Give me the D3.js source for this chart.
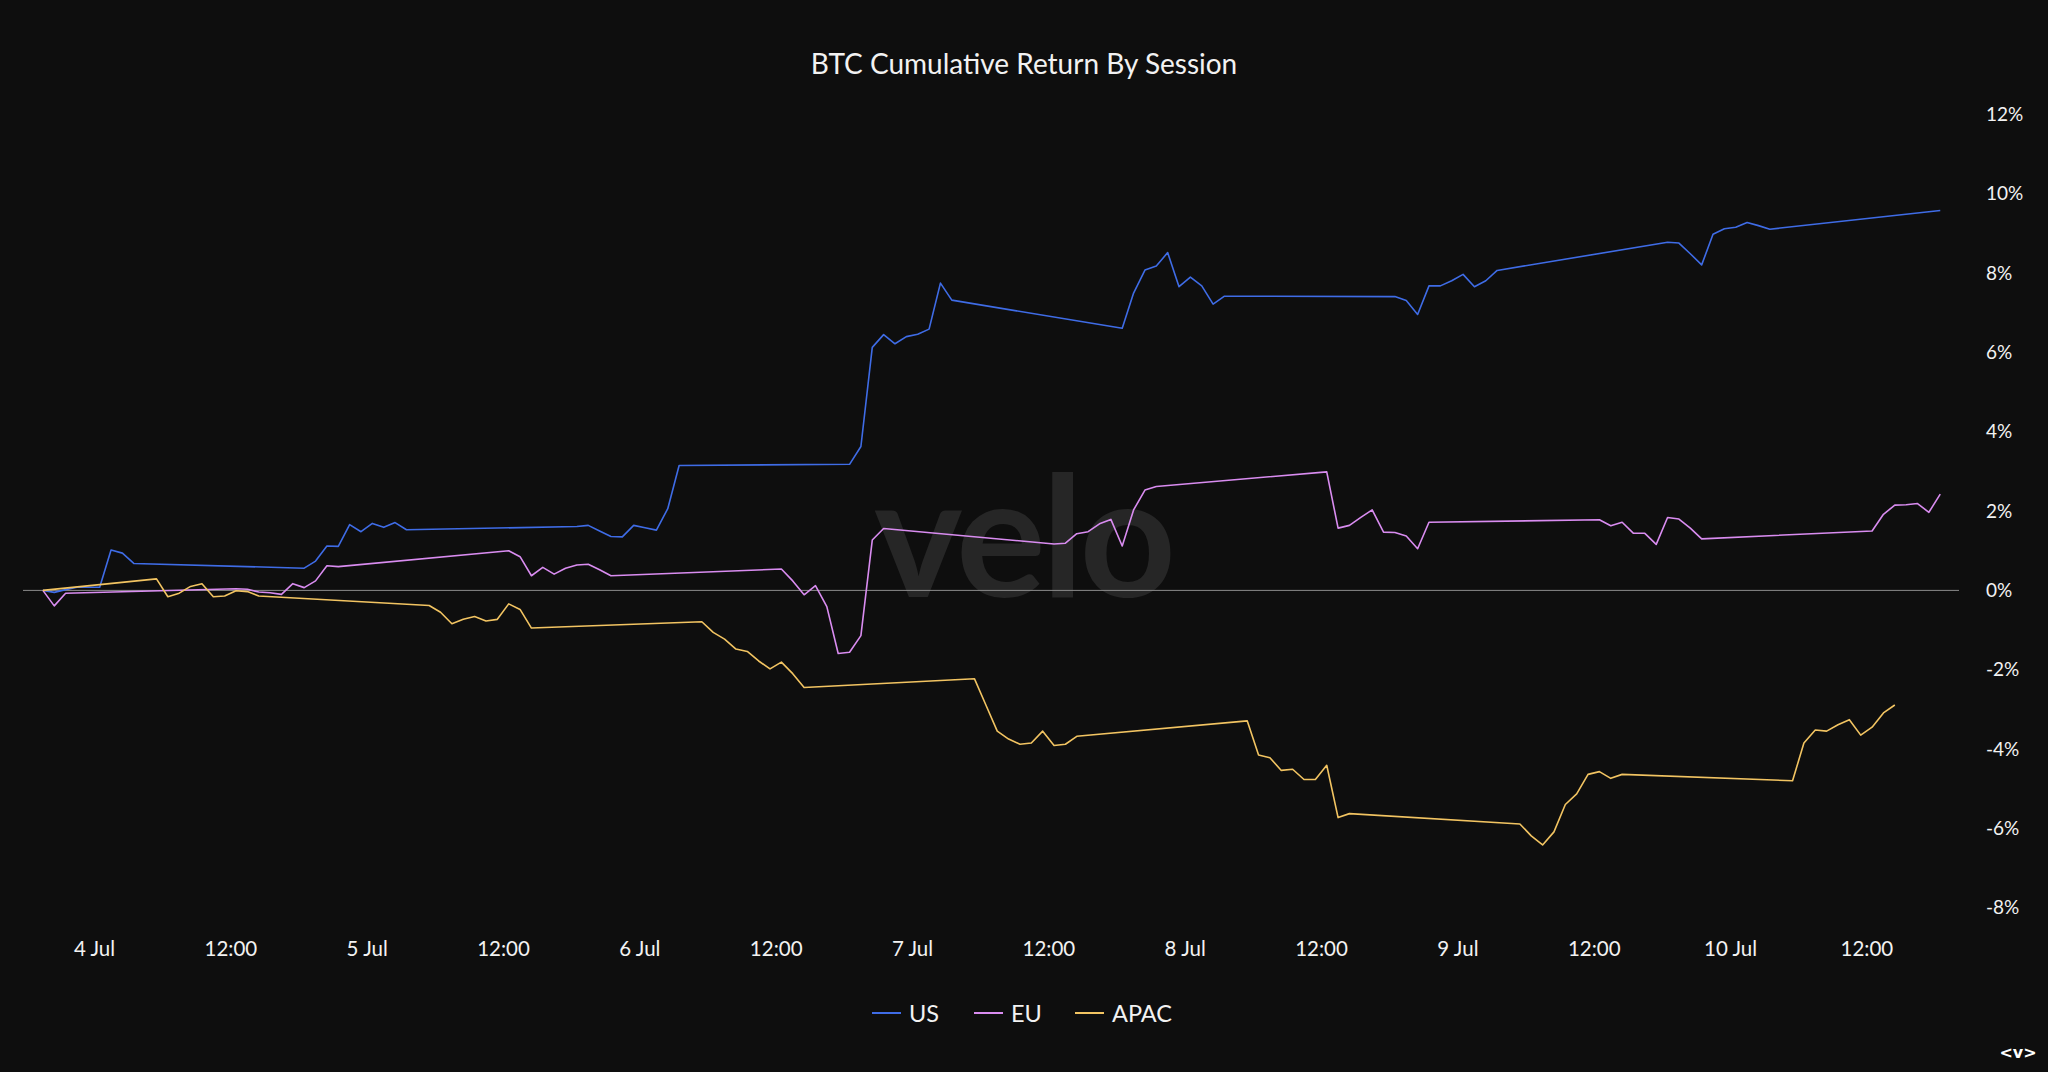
<!DOCTYPE html>
<html><head><meta charset="utf-8">
<script src="https://cdn.jsdelivr.net/npm/d3@7"></script>
<style>
html,body{margin:0;padding:0;background:#0e0e0e;}
svg{display:block;}
</style></head><body>
<svg id="chart" width="2048" height="1072"></svg>
<script>
// ---- data (cumulative return %, hourly points inside each session) ----
const seriesNames = ["US", "EU", "APAC"];
const seriesColors = ["#3f6ce6", "#d98cf0", "#f2c462"];

const usStarts = ["2024-07-03T19:30","2024-07-04T18:30","2024-07-05T18:30","2024-07-06T18:30","2024-07-07T18:30","2024-07-08T18:30","2024-07-09T18:30","2024-07-10T18:30"];
const usValues = [
  [0, -0.05, 0.02, 0.08, 0.08, 0.08, 1.02, 0.94, 0.68],
  [0.56, 0.74, 1.12, 1.11, 1.66, 1.48, 1.69, 1.59, 1.71, 1.53],
  [1.61, 1.64, 1.50, 1.36, 1.35, 1.64, 1.58, 1.52, 2.06, 3.15],
  [3.18, 3.63, 6.13, 6.45, 6.22, 6.40, 6.46, 6.59, 7.75, 7.32],
  [6.61, 7.50, 8.08, 8.18, 8.52, 7.66, 7.90, 7.68, 7.22, 7.42],
  [7.41, 7.31, 6.96, 7.68, 7.68, 7.81, 7.97, 7.66, 7.81, 8.07],
  [8.78, 8.76, 8.49, 8.21, 8.98, 9.12, 9.16, 9.28, 9.20, 9.11],
  [9.58]
];

const euStarts = ["2024-07-03T19:30","2024-07-04T12:30","2024-07-05T12:30","2024-07-06T12:30","2024-07-07T12:30","2024-07-08T12:30","2024-07-09T12:30","2024-07-10T12:30"];
const euValues = [
  [0, -0.39, -0.07],
  [0.04, 0.03, -0.04, -0.06, -0.10, 0.17, 0.07, 0.24, 0.62, 0.60],
  [1.00, 0.85, 0.37, 0.58, 0.41, 0.56, 0.64, 0.66, 0.52, 0.37],
  [0.54, 0.24, -0.11, 0.12, -0.41, -1.59, -1.56, -1.14, 1.27, 1.56],
  [1.17, 1.19, 1.43, 1.48, 1.68, 1.79, 1.12, 2.03, 2.53, 2.62],
  [2.99, 1.57, 1.64, 1.84, 2.03, 1.47, 1.46, 1.37, 1.05, 1.72],
  [1.78, 1.63, 1.72, 1.44, 1.44, 1.16, 1.84, 1.80, 1.57, 1.30],
  [1.50, 1.92, 2.15, 2.16, 2.19, 1.97, 2.43]
];

const apacStarts = ["2024-07-03T19:30","2024-07-04T05:30","2024-07-05T05:30","2024-07-06T05:30","2024-07-07T05:30","2024-07-08T05:30","2024-07-09T05:30","2024-07-10T05:30"];
const apacValues = [
  [0],
  [0.29, -0.16, -0.07, 0.10, 0.17, -0.16, -0.14, -0.01, -0.03, -0.14],
  [-0.38, -0.55, -0.84, -0.73, -0.66, -0.77, -0.73, -0.34, -0.48, -0.95],
  [-0.79, -1.06, -1.23, -1.48, -1.54, -1.78, -1.98, -1.81, -2.10, -2.45],
  [-2.23, -2.89, -3.55, -3.75, -3.88, -3.85, -3.55, -3.91, -3.88, -3.68],
  [-3.29, -4.15, -4.22, -4.54, -4.51, -4.77, -4.77, -4.41, -5.73, -5.63],
  [-5.89, -6.19, -6.42, -6.09, -5.40, -5.13, -4.64, -4.57, -4.74, -4.64],
  [-4.80, -3.85, -3.52, -3.55, -3.39, -3.26, -3.65, -3.45, -3.09, -2.89]
];

const yTicks = [-8, -6, -4, -2, 0, 2, 4, 6, 8, 10, 12];
const xDomain = ["2024-07-03T17:45", "2024-07-10T20:09"];
const titleText = "BTC Cumulative Return By Session";

// ---- build points ----
const HOUR = 3600 * 1000;
const parse = s => new Date(s + ":00Z");
function buildPoints(starts, values) {
  const pts = [];
  starts.forEach((s, i) => {
    const t0 = parse(s).getTime();
    values[i].forEach((v, k) => pts.push({ t: new Date(t0 + k * HOUR), v }));
  });
  return pts;
}
const series = [
  buildPoints(usStarts, usValues),
  buildPoints(euStarts, euValues),
  buildPoints(apacStarts, apacValues)
];

// ---- chart ----
const svg = d3.select("#chart");
const FONT = "Lato, 'Open Sans', sans-serif";
svg.append("rect").attr("width", 2048).attr("height", 1072).attr("fill", "#0e0e0e");

const x = d3.scaleUtc().domain(xDomain.map(parse)).range([23, 1959]);
const y = d3.scaleLinear().domain([-8, 12]).range([907.6, 114.6]);

// watermark
svg.append("text")
  .attr("x", 1023).attr("y", 597)
  .attr("text-anchor", "middle")
  .attr("font-family", "Lato, sans-serif")
  .attr("font-weight", 700)
  .attr("font-size", 168)
  .attr("letter-spacing", -4)
  .attr("fill", "#262626")
  .text("velo");

// title
svg.append("text")
  .attr("x", 1024).attr("y", 73.5)
  .attr("text-anchor", "middle")
  .attr("font-family", FONT)
  .attr("font-size", 28)
  .attr("fill", "#f2f2f2")
  .text(titleText);

// y axis (right side, labels only)
const yAxis = d3.axisRight(y).tickValues(yTicks).tickSize(0).tickPadding(0)
  .tickFormat(d => d + "%");
const gy = svg.append("g").attr("transform", "translate(1986,0)").call(yAxis);
gy.select(".domain").remove();
gy.selectAll("text").attr("font-family", FONT).attr("font-size", 19).attr("fill", "#f2f2f2").attr("text-anchor", "start");

// x axis (labels only)
const xTickDates = d3.utcHour.every(12).range(parse("2024-07-04T00:00"), parse("2024-07-10T12:01"));
const xAxis = d3.axisBottom(x).tickValues(xTickDates).tickSize(0).tickPadding(0)
  .tickFormat(d => d.getUTCHours() === 0 ? d3.utcFormat("%-d %b")(d) : d3.utcFormat("%H:%M")(d));
const gx = svg.append("g").attr("transform", "translate(0,941)").call(xAxis);
gx.select(".domain").remove();
gx.selectAll("text").attr("font-family", FONT).attr("font-size", 20.5).attr("fill", "#f2f2f2");

// zero line
svg.append("line")
  .attr("x1", x.range()[0]).attr("x2", x.range()[1])
  .attr("y1", y(0)).attr("y2", y(0))
  .attr("stroke", "#8a8a8a").attr("stroke-width", 1);

// lines
const line = d3.line().x(d => x(d.t)).y(d => y(d.v));
series.forEach((pts, i) => {
  svg.append("path").datum(pts)
    .attr("d", line)
    .attr("fill", "none")
    .attr("stroke", seriesColors[i])
    .attr("stroke-width", 1.6)
    .attr("stroke-linejoin", "round");
});

// legend
const legendX = [872, 974, 1075];
const lg = svg.append("g");
seriesNames.forEach((n, i) => {
  lg.append("line").attr("x1", legendX[i]).attr("x2", legendX[i] + 29)
    .attr("y1", 1013).attr("y2", 1013)
    .attr("stroke", seriesColors[i]).attr("stroke-width", 2);
  lg.append("text").attr("x", legendX[i] + 37).attr("y", 1021.5)
    .attr("font-family", FONT).attr("font-size", 23.5).attr("fill", "#f2f2f2")
    .text(n);
});

// corner control
svg.append("text").attr("x", 2018).attr("y", 1058).attr("text-anchor", "middle")
  .attr("font-family", "DejaVu Sans, sans-serif").attr("font-weight", 700)
  .attr("font-size", 16).attr("fill", "#ffffff").text("<v>");
</script>
</body></html>
